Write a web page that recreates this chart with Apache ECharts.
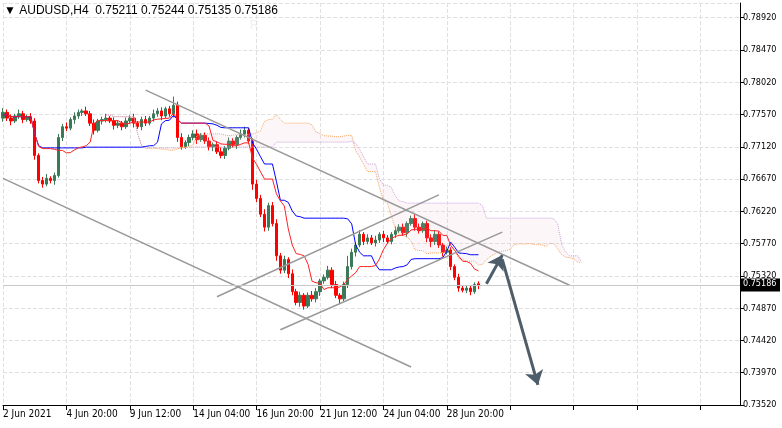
<!DOCTYPE html>
<html><head><meta charset="utf-8">
<script src="https://cdn.jsdelivr.net/npm/echarts@6/dist/echarts.min.js"></script>
<style>html,body{margin:0;padding:0;background:#fff}#c{width:782px;height:428px}</style>
</head><body><div id="c"></div>
<script>
const tickLabels=['2 Jun 2021','4 Jun 20:00','9 Jun 12:00','14 Jun 04:00','16 Jun 20:00','21 Jun 12:00','24 Jun 04:00','28 Jun 20:00'];
const closes=[0.7760,0.7752,0.7748,0.7755,0.7758,0.7750,0.7754,0.7748,
0.7700,0.7665,0.7660,0.7668,0.7665,0.7672,0.7725,
0.7740,0.7738,0.7750,0.7755,0.7760,0.7762,0.7758,
0.7745,0.7735,0.7748,
0.7750,0.7752,0.7748,0.7742,0.7745,0.7740,0.7748,0.7752,0.7745,0.7740,0.7750,0.7745,
0.7752,0.7758,0.7762,0.7755,0.7765,0.7758,0.7770,0.7725,
0.7712,0.7718,0.7725,0.7730,0.7722,0.7728,0.7720,0.7712,0.7715,0.7705,0.7700,0.7710,0.7720,0.7715,0.7725,0.7730,
0.7735,0.7720,0.7660,0.7640,0.7618,0.7600,0.7630,0.7605,
0.7560,0.7540,0.7555,0.7535,0.7510,0.7495,0.7505,0.7490,
0.7505,0.7500,0.7510,0.7525,0.7530,0.7540,0.7520,0.7505,
0.7500,0.7520,0.7545,0.7565,0.7575,0.7590,0.7580,
0.7585,0.7578,0.7582,0.7590,0.7585,0.7580,
0.7590,0.7595,0.7600,0.7592,0.7605,0.7612,
0.7600,0.7595,0.7605,0.7585,0.7580,
0.7590,0.7575,0.7565,0.7568,0.7545,0.7530,0.7515,
0.7512,0.7515,0.7510,0.7520,0.75186];
const wickUp=[6,4,5,3,6,4,3,5,4,3,5,6,3,4,5,4,6,3,5,4,3,6,4,5,3,4,6,3,5,4,3,5,4,6,3,4,5,3,6,4,5,3,4,12,5,6,3,4,5,6,3,4,5,3,4,6,3,5,4,3,6,5,3,4,6,5,7,4,5,6,4,5,3,6,4,5,3,4,6,5,3,4,6,4,5,3,4,15,5,4,6,3,5,4,6,3,5,4,3,6,4,5,3,4,6,5,3,4,5,6,4,3,5,4,3,5,4,3,4,3,3];
const wickDn=[5,4,6,3,4,5,3,4,6,4,5,3,4,6,3,5,4,3,6,4,5,3,4,6,3,5,4,3,6,4,5,3,4,6,3,5,4,3,5,4,6,3,4,5,6,4,3,5,4,6,3,4,5,6,3,4,5,3,4,6,3,5,4,8,5,4,6,5,4,7,5,4,6,5,4,6,5,3,4,5,6,4,3,5,4,6,3,5,4,6,3,5,4,3,5,4,6,3,4,5,3,4,6,3,5,4,3,6,8,5,4,6,3,5,4,5,3,4,5,3,3];
const lastOpen=0.75211, lastHigh=0.75244, lastLow=0.75135;
// trend lines in data space: [barIndex, price]
const trendLines=[[[36,0.7791],[143,0.7519]],[[0,0.7668],[103,0.7405]],[[54,0.7503],[110,0.7645]],[[70,0.7457],[126,0.7593]]];
const arrows=[[[122,0.7521],[126,0.7561]],[[126,0.7555],[135,0.7380]]];

const N=187, n=closes.length;
const cats=[];for(let i=0;i<N;i++)cats.push(i%16===0&&i/16<tickLabels.length?tickLabels[i/16]:'');
const ohlc=[],hi=[],lo=[];
for(let i=0;i<n;i++){
 let o=i===0?0.7752:closes[i-1],c=closes[i],h=Math.max(o,c)+wickUp[i]*0.0001,l=Math.min(o,c)-wickDn[i]*0.0001;
 if(i===n-1){o=lastOpen;h=lastHigh;l=lastLow;}
 ohlc.push([o,c,l,h]);hi.push(h);lo.push(l);
}
function mid(i,p){let s=Math.max(0,i-p+1),H=-1,L=9;for(let k=s;k<=i;k++){H=Math.max(H,hi[k]);L=Math.min(L,lo[k]);}return (H+L)/2;}
const tenkan=[],kijun=[],spA=new Array(N).fill(null),spB=new Array(N).fill(null);
for(let i=0;i<n;i++){tenkan.push(mid(i,9));kijun.push(mid(i,26));}
for(let i=0;i<n;i++){const j=i+26;if(j<N){spA[j]=(tenkan[i]+kijun[i])/2;spB[j]=mid(i,52);}}
const cloudLow=spA.map((a,i)=>a==null?null:Math.min(a,spB[i]));
const cloudDiff=spA.map((a,i)=>a==null?null:Math.abs(a-spB[i]));
const price=closes[n-1];
const tl=trendLines.map(l=>[{coord:l[0]},{coord:l[1]}]);
const ar=arrows.map(l=>[{coord:l[0]},{coord:l[1]}]);
const ch=echarts.init(document.getElementById('c'));
ch.setOption({
 animation:false,
 graphic:[{type:'text',left:250,top:20,z:0,style:{text:'R',font:'bold 400px DejaVu Sans',fill:'rgba(215,225,238,0.45)'}},
  {type:'text',left:4,top:5,z:100,style:{text:'▼ AUDUSD,H4  0.75211 0.75244 0.75135 0.75186',font:'11px DejaVu Sans',fill:'#000'}}],
 grid:{left:3,right:42,top:3,bottom:23},
 xAxis:{type:'category',data:cats,boundaryGap:false,
  axisLine:{lineStyle:{color:'#000'}},axisTick:{interval:15,lineStyle:{color:'#000'}},
  axisLabel:{interval:15,color:'#000',fontSize:10,fontFamily:'DejaVu Sans Condensed',align:'left',margin:4},
  splitLine:{show:true,interval:15,lineStyle:{color:'#e0e0e0',type:'dashed'}}},
 yAxis:{type:'value',position:'right',min:0.7352,max:0.79125,interval:0.0045,
  axisLine:{show:true,lineStyle:{color:'#000'}},axisTick:{show:true,length:4,lineStyle:{color:'#000'}},
  axisLabel:{color:'#000',fontSize:9,fontFamily:'DejaVu Sans Condensed',margin:3,showMaxLabel:false,formatter:v=>v.toFixed(5)},
  splitLine:{lineStyle:{color:'#e0e0e0',type:'dashed'}}},
 series:[
  {type:'line',data:cloudLow,stack:'cl',symbol:'none',lineStyle:{width:0},silent:true},
  {type:'line',data:cloudDiff,stack:'cl',symbol:'none',lineStyle:{width:0},areaStyle:{color:'rgba(230,180,210,0.18)'},silent:true},
  {type:'line',data:spA,symbol:'none',lineStyle:{color:'#f4a460',width:1,type:'dotted'}},
  {type:'line',data:spB,symbol:'none',lineStyle:{color:'#c9a0dc',width:1,type:'dotted'}},
  {type:'line',data:kijun,symbol:'none',lineStyle:{color:'#0000ff',width:1}},
  {type:'line',data:tenkan,symbol:'none',lineStyle:{color:'#ff2020',width:1}},
  {type:'candlestick',data:ohlc,barWidth:3,itemStyle:{color:'#3b7a57',color0:'#ff0000',borderColor:'#3b7a57',borderColor0:'#ff0000',borderWidth:1},
   markLine:{symbol:'none',silent:true,label:{show:false},lineStyle:{color:'#999',width:1.5,type:'solid'},
    data:tl.concat([[{coord:[0,price],lineStyle:{color:'#c8c8c8',width:1}},{coord:[N-1,price]}]])}},
  {type:'line',data:[],markLine:{symbol:['none','arrow'],symbolSize:14,silent:true,label:{show:false},lineStyle:{color:'#4d5d69',width:3,type:'solid'},data:ar}}
 ]
});
const py=ch.convertToPixel({yAxisIndex:0},price);
ch.setOption({graphic:[{},{},{type:'group',left:740,top:py-7,z:100,children:[{type:'rect',shape:{width:40,height:13},style:{fill:'#000'}},{type:'text',left:3,top:1,style:{text:price.toFixed(5),font:'9px DejaVu Sans Condensed',fill:'#fff'}}]}]});
</script></body></html>
